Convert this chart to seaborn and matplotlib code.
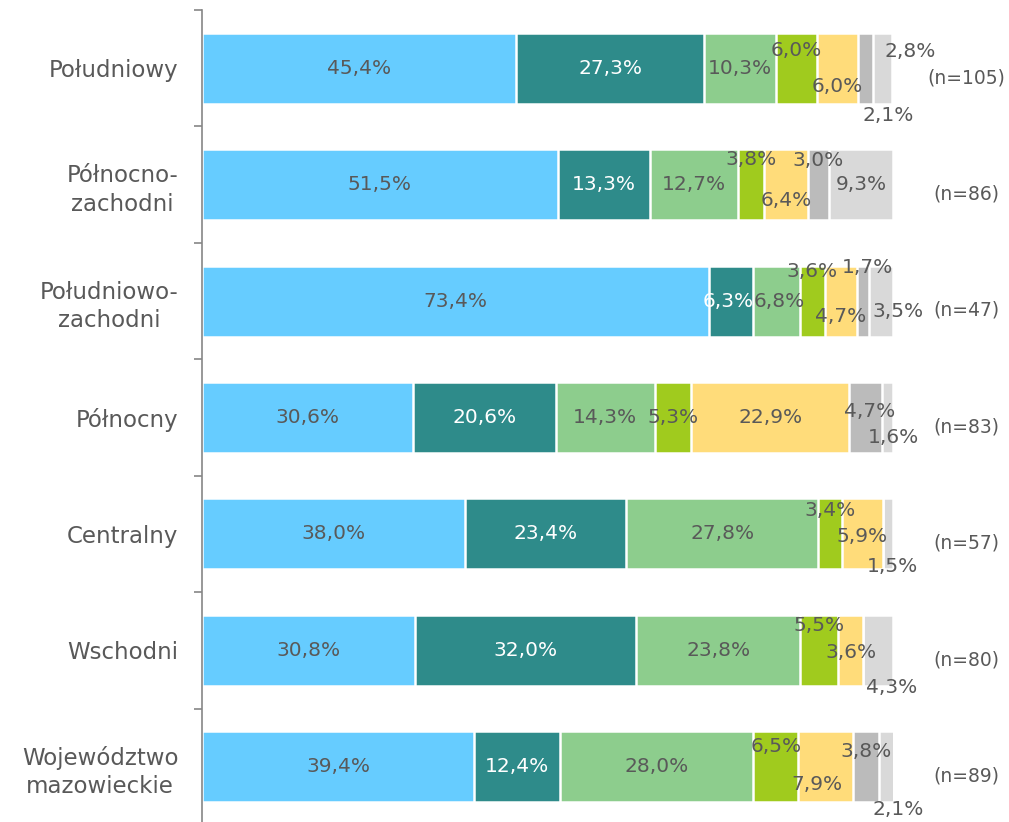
import numpy as np
import pandas as pd
import matplotlib
matplotlib.use("Agg")
import matplotlib.pyplot as plt
import seaborn as sns

# DATA
regions = ["Południowy", "Północno-\nzachodni", "Południowo-\nzachodni", "Północny",
           "Centralny", "Wschodni", "Województwo\nmazowieckie"]
n_labels = ["(n=105)", "(n=86)", "(n=47)", "(n=83)", "(n=57)", "(n=80)", "(n=89)"]

s1 = [45.4, 51.5, 73.4, 30.6, 38.0, 30.8, 39.4]
s2 = [27.3, 13.3, 6.3, 20.6, 23.4, 32.0, 12.4]
s3 = [10.3, 12.7, 6.8, 14.3, 27.8, 23.8, 28.0]
s4 = [6.0, 3.8, 3.6, 5.3, 3.4, 5.5, 6.5]
s5 = [6.0, 6.4, 4.7, 22.9, 5.9, 3.6, 7.9]
s6 = [2.1, 3.0, 1.7, 4.7, 0.0, 0.0, 3.8]
s7 = [2.8, 9.3, 3.5, 1.6, 1.5, 4.3, 2.1]

series = [s1, s2, s3, s4, s5, s6, s7]
colors = ["#66CCFF", "#2E8B8A", "#8DCD8D", "#A0CB1E", "#FFDC7A", "#BBBBBB", "#D9D9D9"]
text_colors = ["#595959", "white", "#595959", "#595959", "#595959", "#595959", "#595959"]

# label offsets for the small segments: (row, segment) -> (dx in %, dy in rows)
offsets = {
    (0, 3): (0, -0.15), (0, 4): (0, 0.16), (0, 5): (3.2, 0.41), (0, 6): (4.0, -0.14),
    (1, 3): (0, -0.22), (1, 4): (0, 0.14), (1, 5): (0, -0.21),
    (2, 1): (-0.4, 0), (2, 2): (0.5, 0),
    (2, 3): (0, -0.25), (2, 4): (0, 0.13), (2, 5): (0.7, -0.29), (2, 6): (2.5, 0.09),
    (3, 5): (0.6, -0.05), (3, 6): (0.9, 0.17),
    (4, 3): (0, -0.20), (4, 4): (0, 0.02), (4, 6): (0.7, 0.28),
    (5, 3): (0, -0.21), (5, 4): (0, 0.02), (5, 6): (2.0, 0.32),
    (6, 3): (0, -0.17), (6, 4): (-1.3, 0.15), (6, 5): (0, -0.13), (6, 6): (1.7, 0.37),
}

df = pd.DataFrame({"region": regions})
vals = np.array(series)
cums = np.cumsum(vals, axis=0)
for i in range(len(series)):
    df[f"c{i}"] = cums[i]

fig = plt.figure(figsize=(10.09, 8.22), dpi=100)
ax = fig.add_axes([202 / 1009, -3 / 822, 691 / 1009, 815 / 822])

# stacked bars: draw cumulative totals from the last series to the first
for i in reversed(range(len(series))):
    sns.barplot(data=df, x=f"c{i}", y="region", color=colors[i], orient="h",
                width=0.61, edgecolor="white", linewidth=1.8, saturation=1, ax=ax)

fs = 14.5
for r in range(len(regions)):
    left = 0
    for i in range(len(series)):
        v = vals[i, r]
        if v > 0:
            dx, dy = offsets.get((r, i), (0, 0))
            ax.text(left + v / 2 + dx, r + dy, f"{v:.1f}%".replace(".", ","),
                    ha="center", va="center", fontsize=fs, color=text_colors[i],
                    clip_on=False)
        left += v
    ax.text(110.6, r + 0.08, n_labels[r], ha="center", va="center",
            fontsize=13.5, color="#595959", clip_on=False)

ax.set_xlim(0, 100)
ax.set_ylim(6.5, -0.5)
ax.set_xlabel("")
ax.set_ylabel("")
ax.set_xticks([])
for s in ["top", "right", "bottom"]:
    ax.spines[s].set_visible(False)
ax.spines["left"].set_color("#868686")
ax.spines["left"].set_linewidth(1.2)
ax.tick_params(axis="y", which="major", length=0, pad=17, labelsize=16.5,
               labelcolor="#595959")
ax.set_yticks(np.arange(-0.5, 7.0, 1.0), minor=True)
ax.tick_params(axis="y", which="minor", length=6, color="#868686", width=1.2)
for lab in ax.get_yticklabels():
    lab.set_multialignment("center")
    lab.set_linespacing(1.3)

fig.savefig("out.png", dpi=100)
